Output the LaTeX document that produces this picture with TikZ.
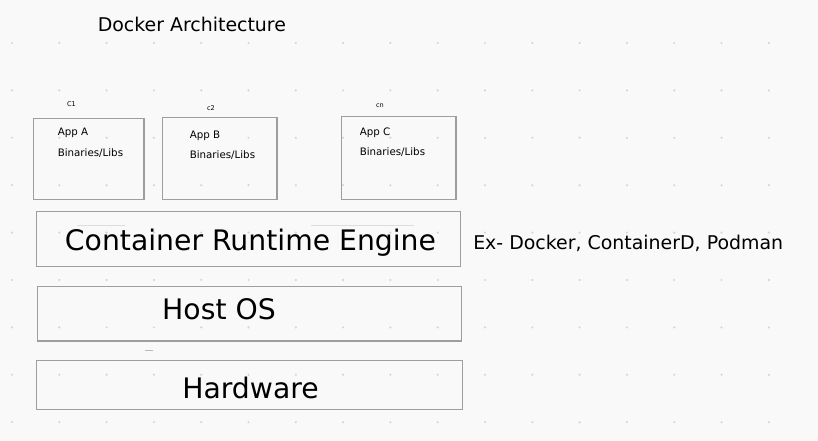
\documentclass[tikz,border=0pt]{standalone}
\usepackage{fontspec}
\setmainfont{DejaVu Sans}
\definecolor{bg}{HTML}{F9F9F9}
\definecolor{dotc}{HTML}{D6D6D6}
\definecolor{boxc}{HTML}{9E9E9E}
\definecolor{faint}{HTML}{DDDDDD}
\newcommand{\fpx}[1]{\fontsize{#1}{#1}\selectfont}
\begin{document}
\begin{tikzpicture}[x=0.75pt,y=-0.75pt,
  layer/.style={draw=boxc,line width=0.8pt},
  cbox/.style={draw=boxc,line width=0.8pt},
  tiny/.style={inner sep=0pt,font=\fpx{4.9pt}},
  small/.style={inner sep=0pt,anchor=base west,font=\fpx{7.7pt}},
  big/.style={inner sep=0pt,anchor=base,font=\fpx{21.2pt}},
  mid/.style={inner sep=0pt,anchor=base west,font=\fpx{14.2pt}}]
\fill[bg] (0,0) rectangle (818,441);
\useasboundingbox (0,0) rectangle (818,441);
% dot grid
\foreach \i in {0,...,16}{
  \foreach \j in {0,...,8}{
    \fill[dotc] ({12+47.3*\i},{43+47.4*\j}) circle (1.2);
  }
}
% title
\node[mid] (title) at (97.5,31.5) {Docker Architecture};
% container boxes
\draw[cbox] (33.7,118.7) rectangle (144,199.7);
\draw[cbox] (162.7,117.7) rectangle (277,199.7);
\draw[cbox] (341.7,116.7) rectangle (456,199.7);
\node[tiny] (c1) at (71.5,104.5) {C1};
\node[tiny] (c2) at (211,108) {c2};
\node[tiny] (cn) at (380,105.5) {cn};
\node[small] (appa) at (57.5,136) {App A};
\node[small] (liba) at (57.5,156.5) {Binaries/Libs};
\node[small] (appb) at (189.5,138.5) {App B};
\node[small] (libb) at (189.5,159) {Binaries/Libs};
\node[small] (appc) at (359.5,135.5) {App C};
\node[small] (libc) at (359.5,156) {Binaries/Libs};
% layers
\draw[layer] (36.7,211.7) rectangle (460.3,266.7);
\draw[faint,line width=0.6pt] (77,225) -- (125,225);
\draw[faint,line width=0.6pt] (311,225) -- (414,225);
\node[big] (cre) at (250.5,251) {Container Runtime Engine};
\node[mid] (ex) at (473,250) {Ex- Docker, ContainerD, Podman};
\draw[layer] (37.7,286.7) rectangle (461.3,341);
\node[big] (host) at (219,320) {Host OS};
\draw[boxc!70,line width=0.7pt] (145,350.5) -- (153,350.5);
\draw[layer] (36.7,360.7) rectangle (462.3,409.7);
\node[big] (hw) at (250.5,398.3) {Hardware};
\end{tikzpicture}
\end{document}
